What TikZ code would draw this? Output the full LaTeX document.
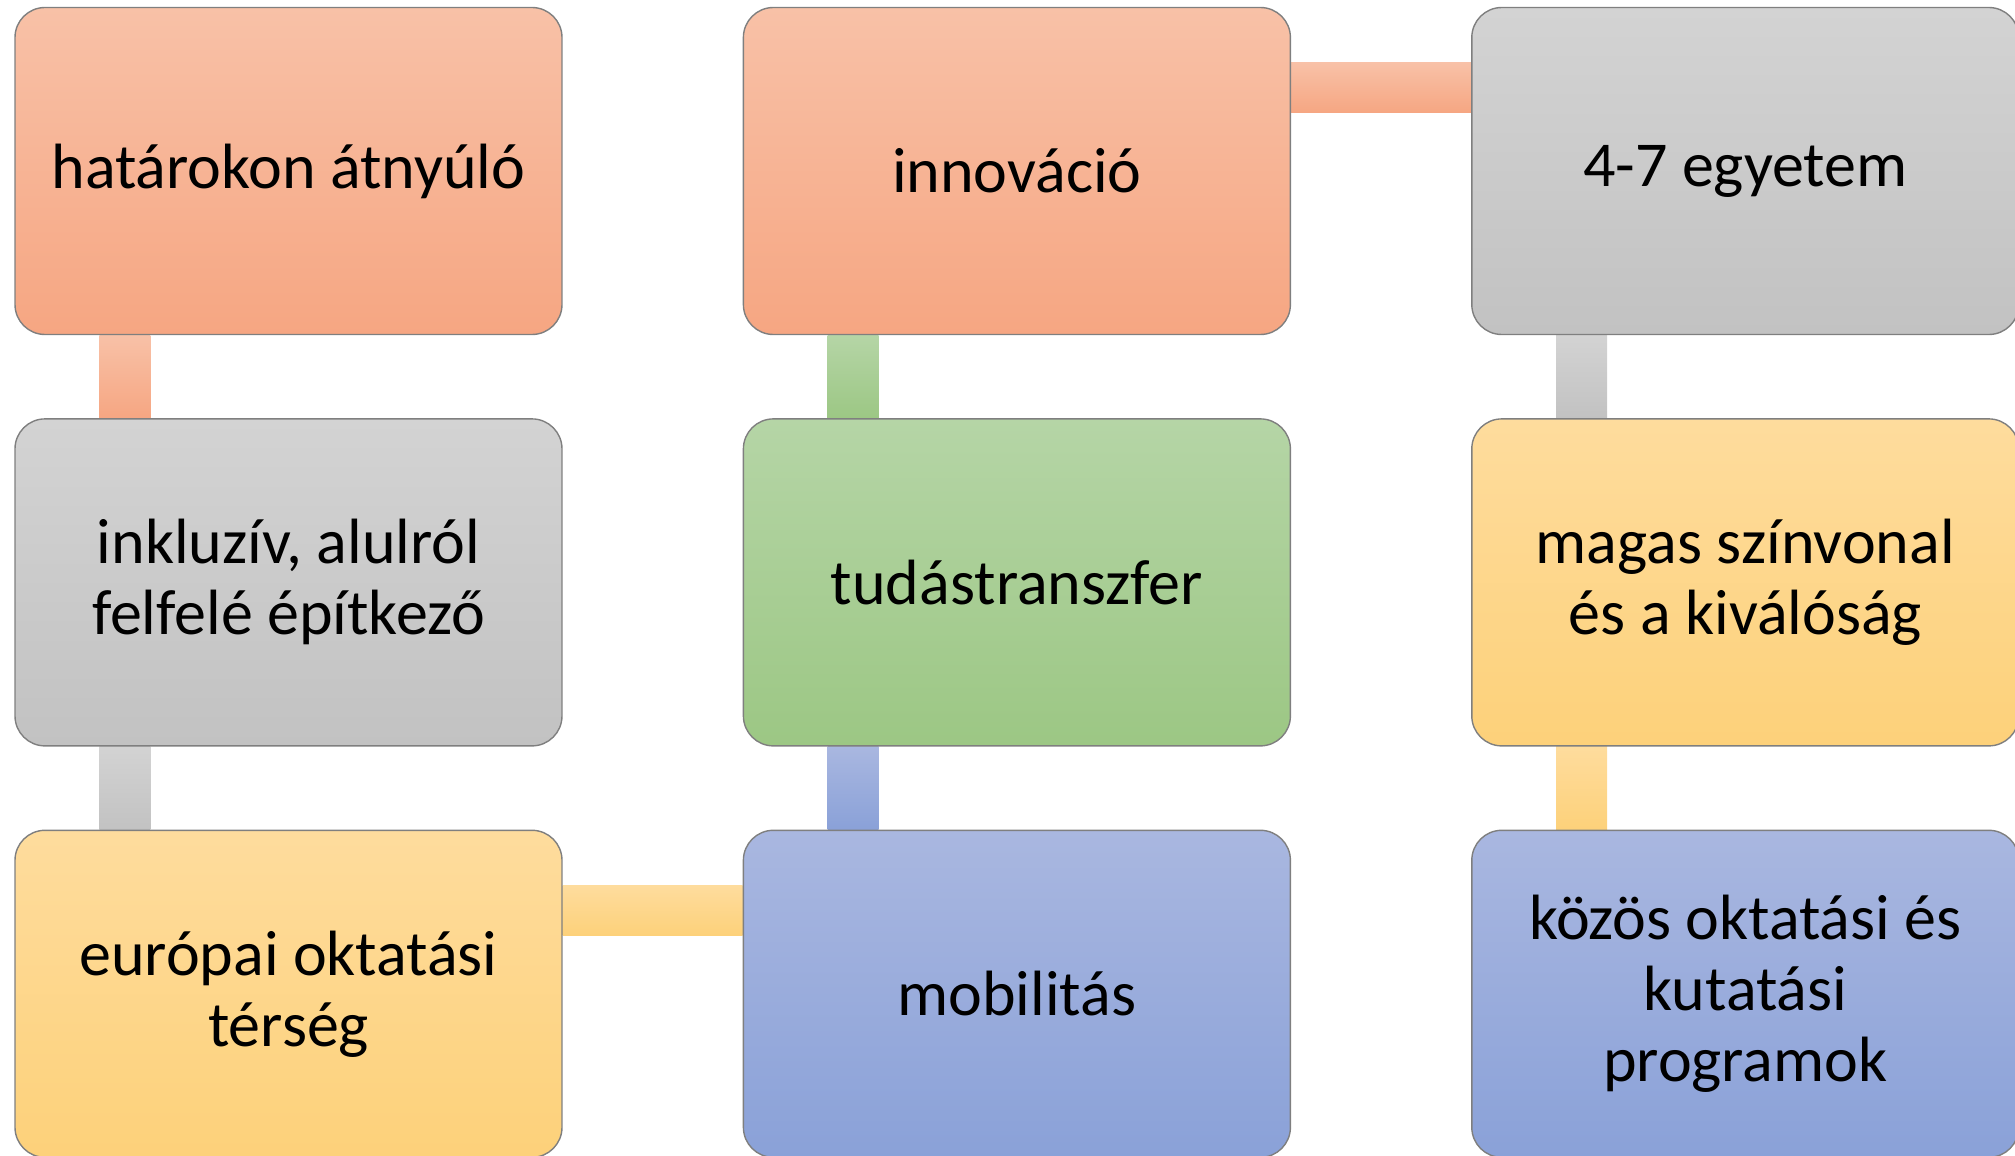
\documentclass[tikz,border=0pt]{standalone}
\usepackage{fontspec}
\setmainfont{Carlito}
\usetikzlibrary{positioning, backgrounds}

\definecolor{orTop}{HTML}{F8C1A7}
\definecolor{orBot}{HTML}{F6A682}
\definecolor{grTop}{HTML}{D3D3D3}
\definecolor{grBot}{HTML}{C2C2C2}
\definecolor{gnTop}{HTML}{B5D5A6}
\definecolor{gnBot}{HTML}{9CC784}
\definecolor{ylTop}{HTML}{FEDC9D}
\definecolor{ylBot}{HTML}{FDD17A}
\definecolor{blTop}{HTML}{A9B7E0}
\definecolor{blBot}{HTML}{8AA1D8}
\definecolor{edge}{HTML}{7F7F7F}

\begin{document}
\begin{tikzpicture}[
x=0.5pt, y=-0.5pt,
node distance=41.5pt and 90pt,
font=\fontsize{32}{35.5}\selectfont,
box/.style={rectangle, draw=edge, line width=0.7pt, rounded corners=15pt, minimum width=273.5pt, minimum height=163.5pt, inner sep=2pt, align=center, top color=#1Top, bottom color=#1Bot},
bar/.style={top color=#1Top, bottom color=#1Bot}
]
\useasboundingbox (0,0) rectangle (2015,1156);

\node[box=or] (hatar) at (288.5,171) {határokon átnyúló};
\node[box=gr, below=of hatar] (inkl) {inkluzív, alulról\\felfelé építkező};
\node[box=yl, below=of inkl] (europ) {európai oktatási\\térség};
\node[box=bl, right=of europ] (mob) {mobilitás};
\node[box=gn, above=of mob] (tudas) {tudástranszfer};
\node[box=or, above=of tudas] (innov) {innováció};
\node[box=gr, right=of innov] (egyetem) {4-7 egyetem};
\node[box=yl, below=of egyetem] (magas) {magas színvonal\\és a kiválóság};
\node[box=bl, below=of magas] (kozos) {közös oktatási és\\kutatási\\programok};

% connectors
\begin{scope}[on background layer]
\shade[bar=or] ([xshift=42.5pt]hatar.south west) rectangle ([xshift=68pt]inkl.north west);
\shade[bar=gr] ([xshift=42.5pt]inkl.south west) rectangle ([xshift=68pt]europ.north west);
\shade[bar=yl] ([yshift=-28pt]europ.north east) rectangle ([yshift=-53pt]mob.north west);
\shade[bar=bl] ([xshift=42.5pt]tudas.south west) rectangle ([xshift=68pt]mob.north west);
\shade[bar=gn] ([xshift=42.5pt]innov.south west) rectangle ([xshift=68pt]tudas.north west);
\shade[bar=or] ([yshift=-28pt]innov.north east) rectangle ([yshift=-53pt]egyetem.north west);
\shade[bar=gr] ([xshift=42.5pt]egyetem.south west) rectangle ([xshift=68pt]magas.north west);
\shade[bar=yl] ([xshift=42.5pt]magas.south west) rectangle ([xshift=68pt]kozos.north west);
\end{scope}

\end{tikzpicture}
\end{document}
